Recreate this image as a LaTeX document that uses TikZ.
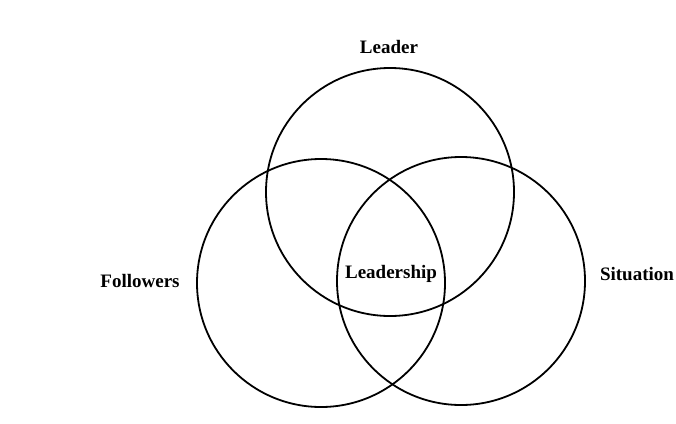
\documentclass[tikz,border=0pt]{standalone}
\usepackage{fontspec}
\setmainfont{Liberation Serif}
\begin{document}
\begin{tikzpicture}[x=1pt,y=-1pt,
  ring/.style={circle,draw=black,line width=1.8pt,minimum size=248pt,inner sep=0pt},
  lbl/.style={anchor=base,inner sep=0pt,font=\fontsize{19}{22}\selectfont\bfseries}]
\useasboundingbox (0,0) rectangle (676,423);
\node[ring] (leader) at (390,192) {};
\node[ring] (followers) at (321,283) {};
\node[ring] (situation) at (461,281) {};
\node[lbl] (tleader) at (389,53) {Leader};
\node[lbl] (tfollowers) at (140,287) {Followers};
\node[lbl] (tleadership) at (391,278) {Leadership};
\node[lbl] (tsituation) at (637,280) {Situation};
\end{tikzpicture}
\end{document}
